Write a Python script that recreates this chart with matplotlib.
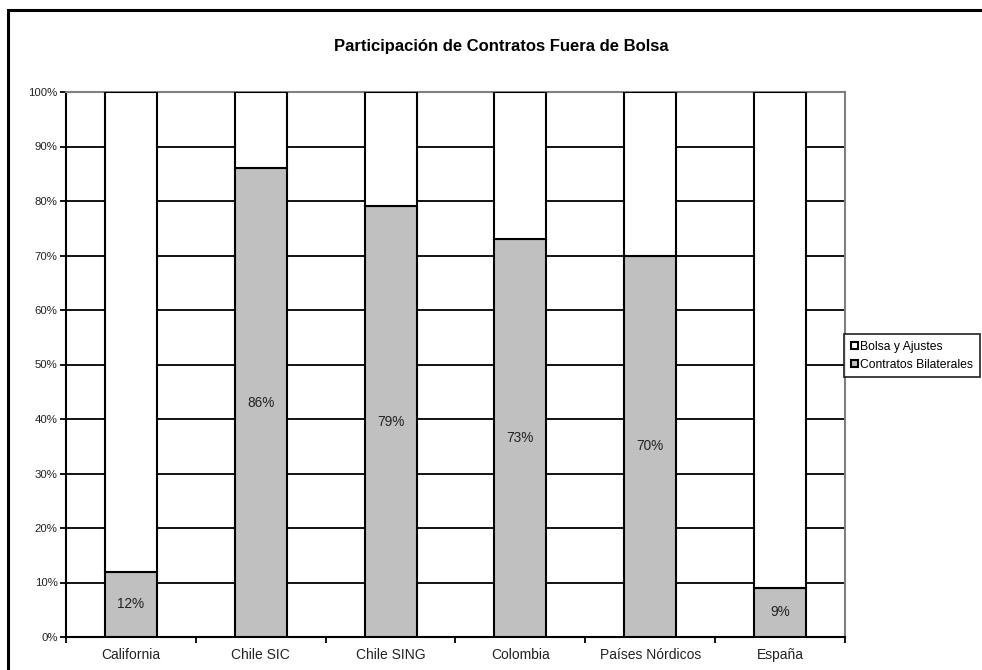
import matplotlib
matplotlib.use("Agg")
import matplotlib.pyplot as plt
from matplotlib.patches import Rectangle
from matplotlib.ticker import MultipleLocator, FuncFormatter

# datos: participación de contratos bilaterales (%) por mercado
mercados = ["California", "Chile SIC", "Chile SING", "Colombia", "Países Nórdicos", "España"]
contratos = [12, 86, 79, 73, 70, 9]
bolsa = [100 - c for c in contratos]

plt.rcParams['font.family'] = ['Liberation Sans', 'DejaVu Sans']

fig = plt.figure(figsize=(9.82, 6.70), dpi=100)
ax = fig.add_axes([66 / 982, 1 - 637 / 670, (845 - 66) / 982, (637 - 92) / 670])

# marco exterior del gráfico
fig.patches.append(Rectangle((8 / 982, -0.1), 1.2, 1 - 10 / 670 + 0.1,
                             transform=fig.transFigure, fill=False,
                             edgecolor="black", linewidth=2.2, zorder=0))

x = range(len(mercados))
b1 = ax.bar(x, contratos, width=0.4, color="#C0C0C0", edgecolor="black",
            linewidth=1.5, label="Contratos Bilaterales", zorder=3)
b2 = ax.bar(x, bolsa, bottom=contratos, width=0.4, color="white", edgecolor="black",
            linewidth=1.5, label="Bolsa y Ajustes", zorder=3)

for i, c in enumerate(contratos):
    ax.text(i, c / 2, f"{c}%", ha="center", va="center", fontsize=9.8,
            color="#222222", zorder=4)

ax.set_xlim(-0.5, len(mercados) - 0.5)
ax.set_ylim(0, 100)
ax.yaxis.set_major_locator(MultipleLocator(10))
ax.yaxis.set_major_formatter(FuncFormatter(lambda v, p: f"{v:.0f}%"))
ax.grid(axis="y", color="black", linewidth=1.3, zorder=1)
ax.set_axisbelow(True)

ax.set_xticks([i + 0.5 for i in range(-1, len(mercados))], minor=False)
ax.set_xticklabels([])
ax.set_xticks(list(x), minor=True)
ax.set_xticklabels(mercados, minor=True)
ax.tick_params(axis="x", which="major", direction="out", length=4, width=1.3)
ax.tick_params(axis="x", which="minor", length=0, pad=8, labelsize=10)
ax.tick_params(axis="y", direction="out", length=4, width=1.3, labelsize=8.2, pad=2)
for t in ax.get_xticklabels(minor=True) + ax.get_yticklabels():
    t.set_color("#222222")

for s in ["top", "right"]:
    ax.spines[s].set_color("#808080")
    ax.spines[s].set_linewidth(1.5)
for s in ["left", "bottom"]:
    ax.spines[s].set_color("black")
    ax.spines[s].set_linewidth(1.5)

fig.text(0.51, 1 - 46 / 670, "Participación de Contratos Fuera de Bolsa",
         ha="center", va="center", fontsize=12, fontweight="bold")

leg = fig.legend(handles=[b2, b1], labels=["Bolsa y Ajustes", "Contratos Bilaterales"],
                 loc="upper left", bbox_to_anchor=(844 / 982, 1 - 334 / 670),
                 fontsize=8.7, frameon=True, fancybox=False, handlelength=0.6,
                 handleheight=0.6, handletextpad=0.2, borderpad=0.55,
                 labelspacing=0.5, borderaxespad=0)
leg.get_frame().set_edgecolor("black")
leg.get_frame().set_linewidth(1.3)

fig.savefig("out.png", dpi=100)
